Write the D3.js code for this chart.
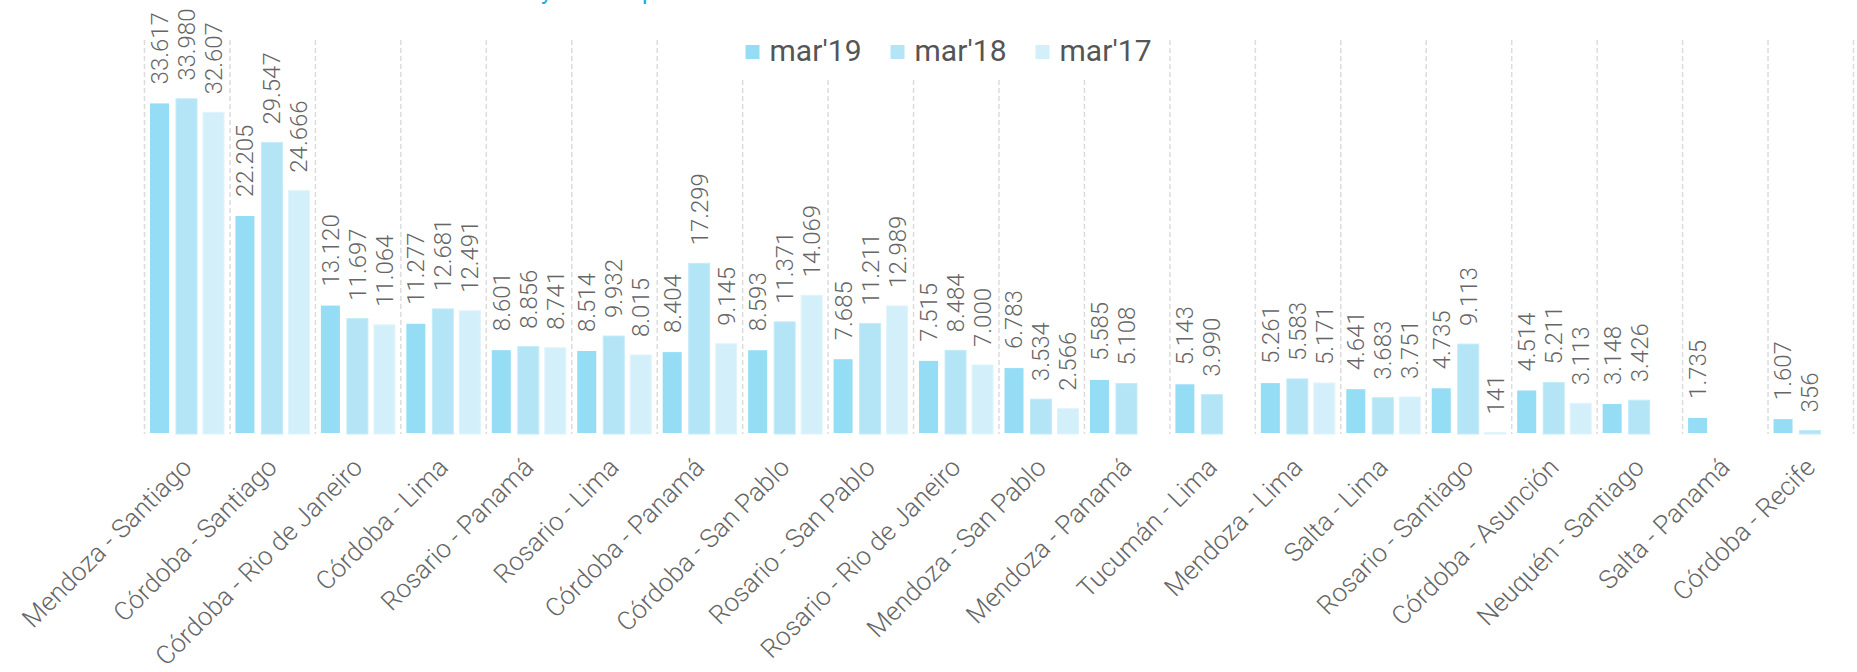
<!DOCTYPE html>
<html>
<head>
<meta charset="utf-8">
<script src="https://d3js.org/d3.v7.min.js"></script>
<style>
  body { margin: 0; background: #fff; }
  svg { display: block; font-family: Roboto, "Noto Sans", sans-serif; }
  .thin { font-family: "Roboto Light", Roboto, "Noto Sans", sans-serif; font-weight: 300; }
</style>
</head>
<body>
<div id="chart"></div>
<script>

// Routes, ordered as in the report
var routes = ["Mendoza - Santiago", "Córdoba - Santiago", "Córdoba - Rio de Janeiro", "Córdoba - Lima",
  "Rosario - Panamá", "Rosario - Lima", "Córdoba - Panamá", "Córdoba - San Pablo", "Rosario - San Pablo",
  "Rosario - Rio de Janeiro", "Mendoza - San Pablo", "Mendoza - Panamá", "Tucumán - Lima", "Mendoza - Lima",
  "Salta - Lima", "Rosario - Santiago", "Córdoba - Asunción", "Neuquén - Santiago", "Salta - Panamá",
  "Córdoba - Recife"];

var series = ["mar'19", "mar'18", "mar'17"];

// passengers per route (null = no flights that month)
var mar19 = [33617, 22205, 13120, 11277, 8601, 8514, 8404, 8593, 7685, 7515, 6783, 5585, 5143, 5261, 4641, 4735, 4514, 3148, 1735, 1607];
var mar18 = [33980, 29547, 11697, 12681, 8856, 9932, 17299, 11371, 11211, 8484, 3534, 5108, 3990, 5583, 3683, 9113, 5211, 3426, null, 356];
var mar17 = [32607, 24666, 11064, 12491, 8741, 8015, 9145, 14069, 12989, 7000, 2566, null, null, 5171, 3751, 141, 3113, null, null, null];

var colors = ["#95dcf5", "#b4e5f6", "#d3eff9"];
var strokes = ["#ffffff", "#c4ebf8", "#e0f4fb"];

var width = 1857, height = 672;
var margin = {top: 40, left: 144.5, right: 3.5};
var baseY = 434;

var svg = d3.select("#chart")
  .append("svg")
  .attr("width", width)
  .attr("height", height);

var x0 = d3.scaleBand()
  .domain(routes)
  .range([margin.left, width - margin.right]);

var bw = x0.bandwidth();
var x1 = d3.scaleBand()
  .domain(series)
  .range([bw * 0.0175, bw * 0.9655])
  .paddingInner(0.222)
  .paddingOuter(0.111);

var y = d3.scaleLinear()
  .domain([0, 44000])
  .range([baseY, 0]);

// spanish thousands separator
var fmt = d3.formatLocale({decimal: ",", thousands: ".", grouping: [3], currency: ["$", ""]}).format(",d");

// title (only the bottom of it shows)
svg.append("text")
  .attr("x", 541).attr("y", -1)
  .attr("fill", "#17ace6")
  .style("font-size", "24px")
  .text("y");
svg.append("text")
  .attr("x", 642).attr("y", -1)
  .attr("fill", "#17ace6")
  .style("font-size", "24px")
  .text("p");

// dashed separators between routes
var seps = routes.map(r => x0(r)).concat([x0.range()[1]]);
svg.append("g")
  .selectAll("line")
  .data(seps)
  .enter()
  .append("line")
  .attr("x1", d => d).attr("x2", d => d)
  .attr("y1", margin.top).attr("y2", baseY)
  .attr("stroke", "#dcdcdc")
  .attr("stroke-width", 1.5)
  .attr("stroke-dasharray", "5,3");

var rows = routes.map((r, i) => ({
  route: r,
  vals: [mar19[i], mar18[i], mar17[i]].map((v, k) => ({key: series[k], k: k, v: v}))
}));

var groups = svg.append("g")
  .selectAll("g")
  .data(rows)
  .enter()
  .append("g")
  .attr("transform", d => "translate(" + x0(d.route) + ",0)");

groups.selectAll("rect")
  .data(d => d.vals.filter(e => e.v != null))
  .enter()
  .append("rect")
  .attr("x", d => x1(d.key))
  .attr("width", x1.bandwidth())
  .attr("y", d => y(d.v))
  .attr("height", d => y(0) - y(d.v))
  .attr("fill", d => colors[d.k])
  .attr("stroke", d => strokes[d.k])
  .attr("stroke-width", d => d.k == 0 ? 2 : 1);

// value labels, rotated
groups.selectAll("text")
  .data(d => d.vals.filter(e => e.v != null))
  .enter()
  .append("text")
  .attr("class", "thin")
  .attr("transform", d => "translate(" + (x1(d.key) + x1.bandwidth() / 2) + "," + (y(d.v) - 18) + ") rotate(-90)")
  .attr("dy", "0.35em")
  .attr("fill", "#666")
  .style("font-size", "24px")
  .text(d => fmt(d.v));

// category labels
svg.append("g")
  .selectAll("text")
  .data(routes)
  .enter()
  .append("text")
  .attr("class", "thin")
  .attr("transform", d => "translate(" + (x0(d) + bw / 2 + 6) + ",469) rotate(-45)")
  .attr("text-anchor", "end")
  .attr("fill", "#666")
  .style("font-size", "26px")
  .text(d => d);

// legend on a white box, covering the separators
var legend = svg.append("g");
legend.append("rect")
  .attr("x", 735).attr("y", 33)
  .attr("width", 415).attr("height", 44)
  .attr("fill", "#fff");

var lx = 745.5;
series.forEach(function(s, i) {
  legend.append("rect")
    .attr("x", lx).attr("y", 45)
    .attr("width", 14).attr("height", 14)
    .attr("fill", colors[i]);
  var t = legend.append("text")
    .attr("x", lx + 24).attr("y", 61)
    .attr("fill", "#555")
    .style("font-size", "30px")
    .text(s);
  lx = lx + 24 + t.node().getComputedTextLength() + 29;
});

</script>
</body>
</html>
